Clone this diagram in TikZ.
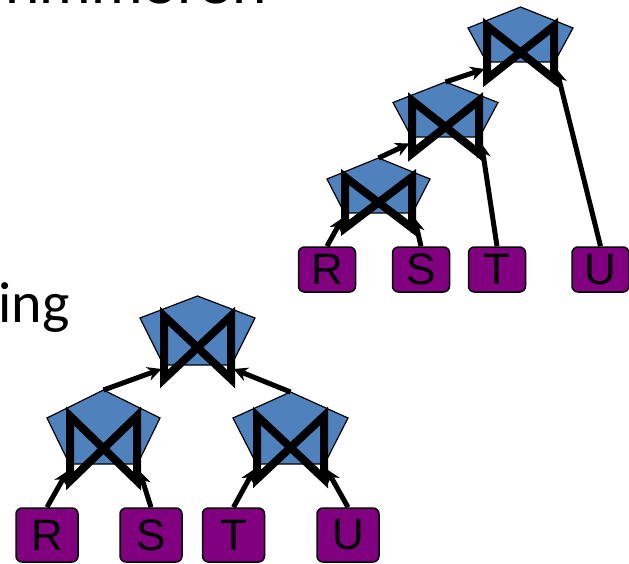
\documentclass[tikz,border=0pt]{standalone}
\usepackage{fontspec}
\setmainfont{Liberation Sans}
\newfontfamily\calib{Carlito}
\usetikzlibrary{arrows.meta}
\definecolor{jblue}{RGB}{79,129,189}
\definecolor{leafpurple}{RGB}{128,0,128}
\tikzset{
  pics/join/.style n args={4}{code={
    \filldraw[fill=jblue, draw=black, line width=1.2pt, line join=miter]
      (0,-#2) -- (#1,0) -- (34,#3) -- (-34,#3) -- (-#1,0) -- cycle;
    \draw[line width=8pt, line join=miter]
      (-33.5,-2) -- (-33.5,#4) -- (33.5,-2) -- (33.5,#4) -- cycle;
    \coordinate (-top) at (0,-#2);
    \coordinate (-bl) at (-36,#4-10);
    \coordinate (-br) at (36,#4-10);
  }},
  leafS/.style={draw=black, line width=1.5pt, fill=leafpurple, rounded corners=6pt,
    minimum width=57pt, minimum height=45pt, inner sep=0pt,
    font=\fontsize{44}{44}\selectfont},
  leafL/.style={leafS, minimum width=62pt, minimum height=54pt},
  arr/.style={line width=5pt, -{Stealth[length=14pt,width=14pt,inset=4.5pt]}},
}
\begin{document}
\begin{tikzpicture}[x=1pt,y=-1pt]
\useasboundingbox (0,0) rectangle (629,564);
% cut-off slide text
\begin{scope}
\clip (0,0) rectangle (629,12);
\node[anchor=base west, inner sep=0pt, font=\fontsize{62}{62}\selectfont] (toptext) at (5,4) {nmmeren};
\end{scope}
\node[anchor=base east, inner sep=0pt, font=\calib\fontsize{58}{58}\selectfont] (ing) at (70,322) {ing};

% left-deep tree
\pic (J1) at (378.5,179) {join={51.5}{21}{34}{49}};
\pic (J2) at (445.5,102.5) {join={52.5}{20.5}{34.5}{51}};
\pic (J3) at (520.5,28) {join={52.5}{21}{34}{51}};
\node[leafS] (R1) at (327,269.5) {R};
\node[leafS] (S1) at (421,269.5) {S};
\node[leafS] (T1) at (497,269.5) {T};
\node[leafS] (U1) at (600.5,269.5) {U};
\draw[arr] (R1.north) -- (J1-bl);
\draw[arr] (S1.north) -- (J1-br);
\draw[arr] (J1-top) -- (J2-bl);
\draw[arr] (T1.north) -- (J2-br);
\draw[arr] (J2-top) -- (J3-bl);
\draw[arr] (U1.north) -- (J3-br);

% bushy tree
\pic (JA) at (197.5,318) {join={57.5}{22}{47}{61}};
\pic (JB) at (103.5,418) {join={56.5}{28}{46}{63}};
\pic (JC) at (290.5,418) {join={57.5}{26}{46}{61}};
\node[leafL] (R2) at (47,535) {R};
\node[leafL] (S2) at (151,535) {S};
\node[leafL] (T2) at (233.5,535) {T};
\node[leafL] (U2) at (348,535) {U};
\draw[arr] (R2.north) -- (JB-bl);
\draw[arr] (S2.north) -- (JB-br);
\draw[arr] (T2.north) -- (JC-bl);
\draw[arr] (U2.north) -- (JC-br);
\draw[arr] (JB-top) -- (JA-bl);
\draw[arr] (JC-top) -- (JA-br);
\end{tikzpicture}
\end{document}
